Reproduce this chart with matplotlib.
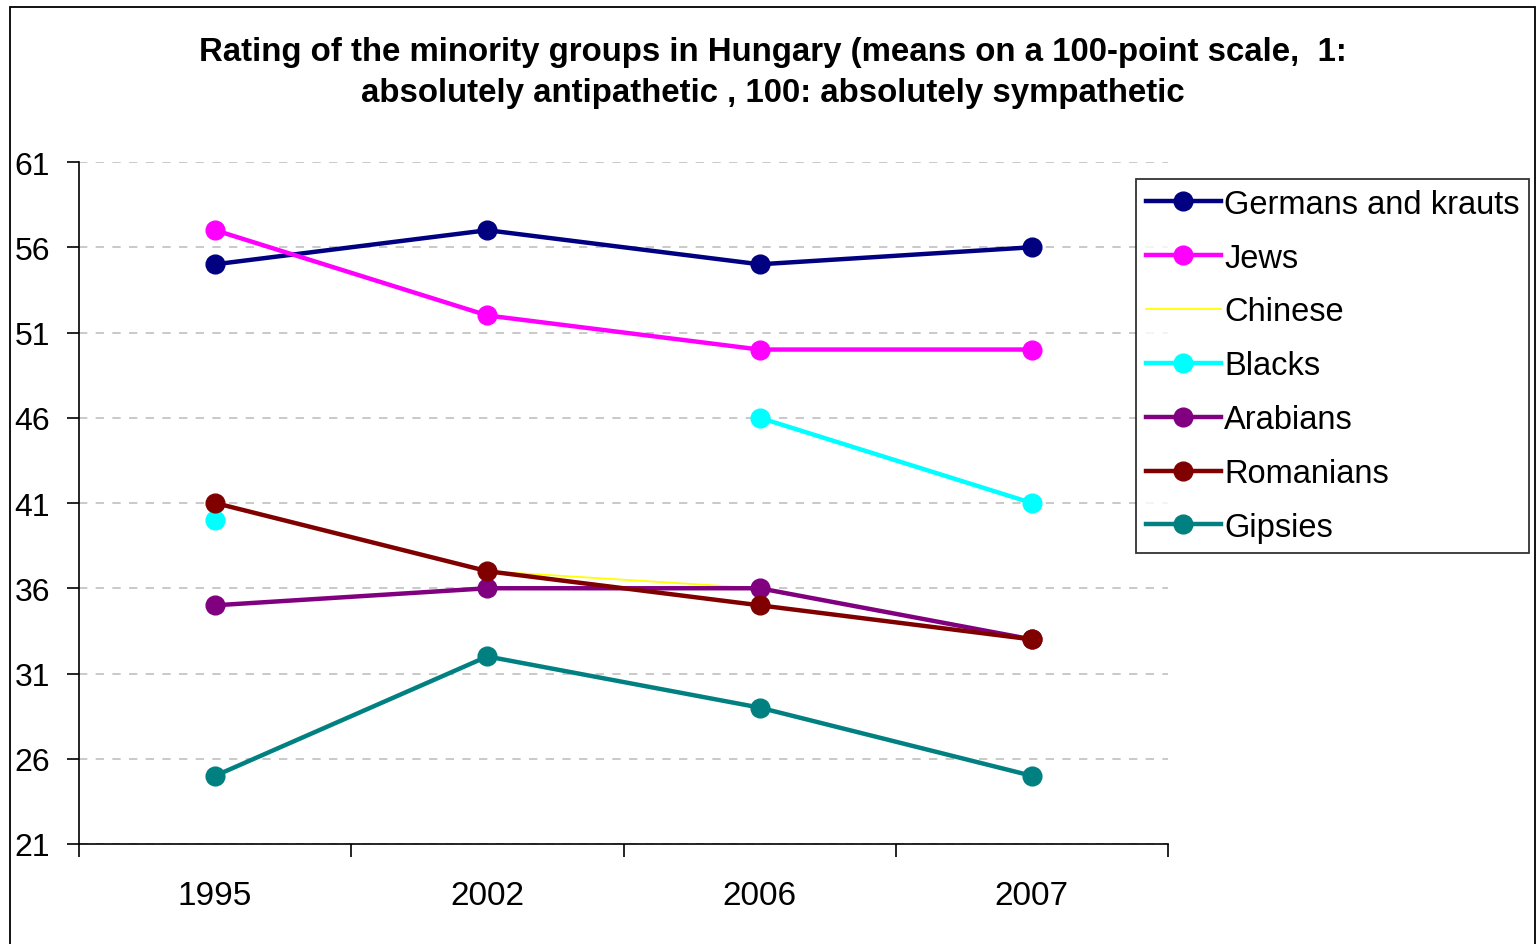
import numpy as np
import matplotlib.pyplot as plt
from matplotlib.patches import Rectangle

plt.rcParams["font.family"] = ["Liberation Sans", "DejaVu Sans"]

# data
years = ["1995", "2002", "2006", "2007"]
germans = [55, 57, 55, 56]
jews = [57, 52, 50, 50]
chinese = [np.nan, 37, 36, np.nan]
blacks = [40, np.nan, 46, 41]
arabians = [35, 36, 36, 33]
romanians = [41, 37, 35, 33]
gipsies = [25, 32, 29, 25]

series = [
    ("Germans and krauts", germans, "#000080", True),
    ("Jews", jews, "#FF00FF", True),
    ("Chinese", chinese, "#FFFF00", False),
    ("Blacks", blacks, "#00FFFF", True),
    ("Arabians", arabians, "#800080", True),
    ("Romanians", romanians, "#800000", True),
    ("Gipsies", gipsies, "#008080", True),
]

W, H = 1539, 945
fig = plt.figure(figsize=(W / 100, H / 100), dpi=100)
ax = fig.add_axes([79 / W, 1 - 845 / H, 1089 / W, 682 / H])

x = np.arange(len(years))
for name, vals, color, markers in series:
    if markers:
        ax.plot(x, vals, color=color, lw=3.2, marker="o", ms=13.5, label=name)
    else:
        ax.plot(x, vals, color=color, lw=1.3, label=name)

ax.set_xlim(-0.5, 3.5)
ax.set_ylim(21, 61)
ax.set_yticks(np.arange(21, 62, 5))
ax.tick_params(axis="y", length=9, width=1.2, pad=12, labelsize=23, direction="out")
ax.yaxis.grid(True, color="#c0c0c0", ls=(0, (5, 5)), lw=1.2)

# boundary ticks between categories, labels at category centres
ax.set_xticks(np.arange(-0.5, 3.6, 1))
ax.set_xticklabels([])
ax.set_xticks(x, minor=True)
ax.set_xticklabels(years, minor=True)
ax.tick_params(axis="x", which="major", length=9, width=1.2, direction="out")
ax.tick_params(axis="x", which="minor", length=0, pad=26, labelsize=24)

for s in ["top", "right"]:
    ax.spines[s].set_visible(False)
for s in ["left", "bottom"]:
    ax.spines[s].set_linewidth(1.2)

leg = ax.legend(
    loc="upper left",
    bbox_to_anchor=(1136 / W, 1 - 180 / H),
    bbox_transform=fig.transFigure,
    borderaxespad=0,
    fontsize=23.5,
    handlelength=2.3,
    handletextpad=0.1,
    labelspacing=0.7,
    borderpad=0.3,
    fancybox=False,
    frameon=True,
)
leg.get_frame().set_edgecolor("black")
leg.get_frame().set_linewidth(1.3)

fig.text(
    0.502,
    1 - 73 / H,
    "Rating of the minority groups in Hungary (means on a 100-point scale,  1:\n"
    "absolutely antipathetic , 100: absolutely sympathetic",
    ha="center",
    va="center",
    fontsize=23.8,
    fontweight="bold",
    linespacing=1.45,
)

fig.patches.append(
    Rectangle((10 / W, -0.01), 1525 / W, 1 - 8 / H + 0.01, transform=fig.transFigure,
              fill=False, edgecolor="black", lw=1.3)
)

fig.savefig("out.png", dpi=100)
